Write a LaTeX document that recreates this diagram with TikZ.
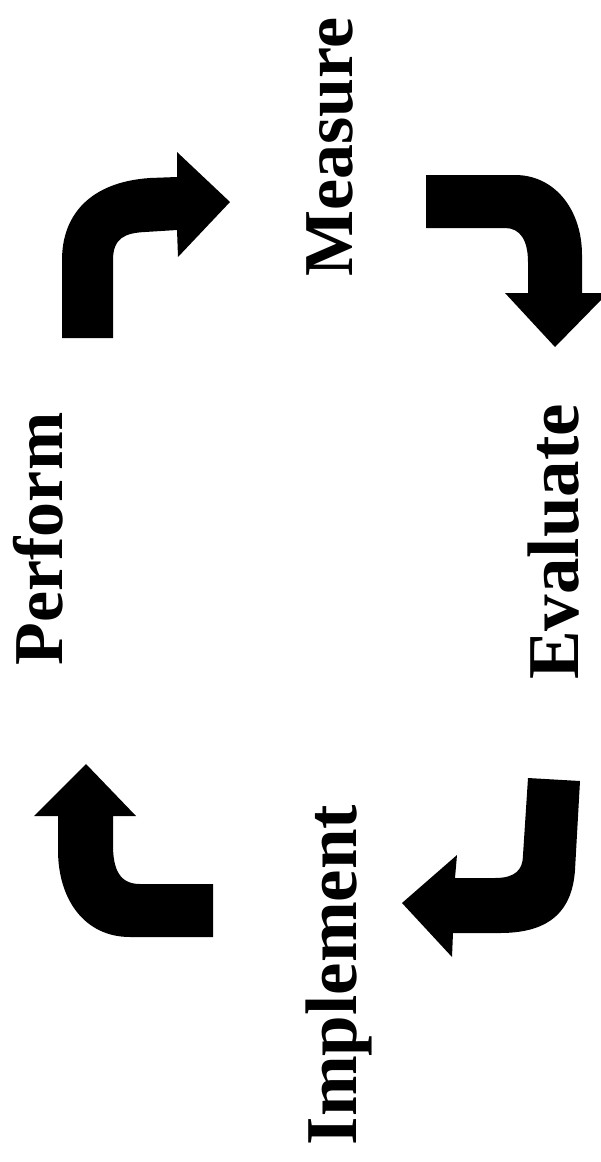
\documentclass[tikz,border=0pt]{standalone}
\usepackage{fontspec}
\setmainfont{Liberation Serif}[BoldFont={Liberation Serif Bold}]
\begin{document}
\begin{tikzpicture}[x=1pt,y=-1pt,
  lbl/.style={rotate=90, anchor=base, inner sep=0pt, font=\fontsize{73}{80}\selectfont\bfseries},
  lblsmall/.style={lbl, font=\fontsize{70}{78}\selectfont\bfseries},
  bentarrow/.style={fill=black, draw=none}]
\useasboundingbox (0,0) rectangle (601,1162);
% labels
\node[lblsmall] (perform) at (62,539) {Perform};
\node[lblsmall] (measure) at (352,147) {Measure};
\node[lbl] (evaluate) at (578,542) {Evaluate};
\node[lbl] (implement) at (356,975) {Implement};
% Perform -> Measure
\fill[bentarrow] (62,338) -- (62,260) .. controls (62,215) and (90,182) .. (150,178)
  -- (177,177) -- (177,152) -- (230,202) -- (178,257) -- (177,230) -- (145,232)
  .. controls (125,233) and (113,238) .. (113,260) -- (113,338) -- cycle;
% Measure -> Evaluate
\fill[bentarrow] (426,175) -- (515,175) .. controls (555,175) and (582,210) .. (582,255)
  -- (582,293) -- (601,293) -- (601,300) -- (555,347) -- (505,293) -- (528,293)
  -- (528,262) .. controls (528,240) and (520,228) .. (505,228) -- (426,228) -- cycle;
% Evaluate -> Implement
\fill[bentarrow] (528,778) -- (580,781) -- (575,870) .. controls (572,915) and (545,933) .. (500,933)
  -- (453,933) -- (452,957) -- (402,903) -- (457,855) -- (455,878) -- (495,878)
  .. controls (515,878) and (523,870) .. (523,855) -- cycle;
% Implement -> Perform
\fill[bentarrow] (213,937) -- (130,937) .. controls (85,937) and (58,900) .. (58,850)
  -- (58,816) -- (34,816) -- (86,764) -- (136,816) -- (113,816) -- (113,845)
  .. controls (113,870) and (120,884) .. (140,884) -- (213,884) -- cycle;
\end{tikzpicture}
\end{document}
